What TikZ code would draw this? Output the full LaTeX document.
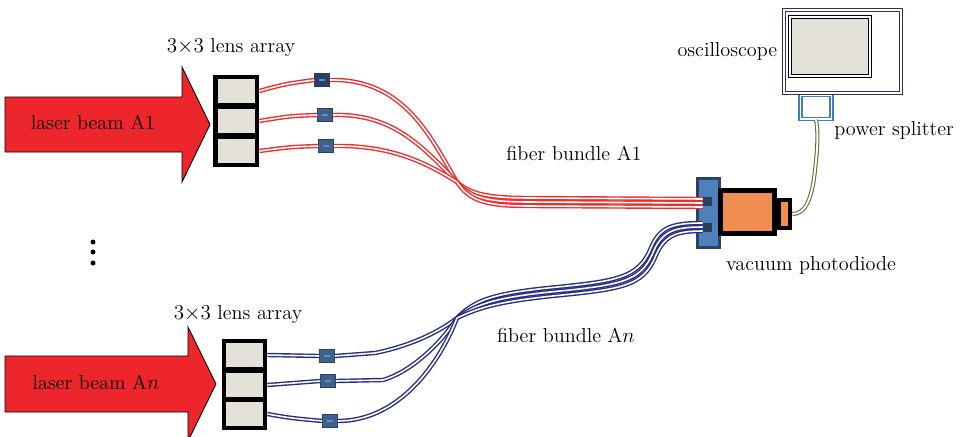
\documentclass[tikz,border=0pt]{standalone}
\usepackage{xcolor}
\usepackage{amsmath}
\usepackage{tikz}
\usetikzlibrary{positioning, calc}
\definecolor{laserred}{RGB}{236,38,42}
\definecolor{fibred}{RGB}{238,45,45}
\definecolor{fibnavy}{RGB}{40,45,130}
\definecolor{lensgrey}{RGB}{228,226,216}
\definecolor{connblue}{RGB}{62,98,140}
\definecolor{conndark}{RGB}{40,62,98}
\definecolor{conninner}{RGB}{100,140,190}
\definecolor{portblue}{RGB}{78,128,188}
\definecolor{portedge}{RGB}{42,66,104}
\definecolor{diodeorange}{RGB}{240,142,82}
\definecolor{cablegreen}{RGB}{92,112,52}
\definecolor{splitblue}{RGB}{72,122,192}
\definecolor{scopenavy}{RGB}{48,48,100}
\tikzset{
  beam/.style={fill=laserred, draw=black, line width=0.5pt, line join=miter},
  lensframe/.style={rectangle, fill=black, minimum width=0.92cm, minimum height=1.84cm, inner sep=0pt},
  lenscell/.style={rectangle, fill=lensgrey, minimum width=0.74cm, minimum height=0.48cm, inner sep=0pt},
  conn/.style={rectangle, draw=conndark, fill=connblue, line width=0.3pt,
    minimum width=0.3cm, minimum height=0.26cm, inner sep=0pt},
  redfiber/.style={draw=fibred, line width=0.8pt, double=white, double distance=0.9pt},
  bluefiber/.style={draw=fibnavy, line width=0.8pt, double=white, double distance=0.9pt},
  cable/.style={draw=cablegreen, line width=0.6pt, double=white, double distance=1.1pt},
  textlbl/.style={font=\fontsize{11.5}{14}\selectfont, inner sep=1pt}
}
\newcommand{\connmark}{\textcolor{conninner}{\rule{3.4pt}{1.7pt}}}

\begin{document}
\begin{tikzpicture}[x=0.02cm, y=-0.02cm]
  \clip (0,0) rectangle (970,436);
  \useasboundingbox (0,0) rectangle (970,436);

  % laser beams
  \draw[beam] (5,97) -- (182,97) -- (182,67) -- (210,124.5) -- (182,182) -- (182,152) -- (5,152) -- cycle;
  \node[textlbl] (beamA) at (93,122) {laser beam A1};
  \draw[beam] (5,356) -- (188,356) -- (188,327) -- (216,384) -- (188,441) -- (188,412) -- (5,412) -- cycle;
  \node[textlbl] (beamN) at (96,382) {laser beam A$n$};

  % dots between the two channels
  \foreach \y in {242,252,263}
    \fill (93,\y) circle (0.05cm);

  % lens arrays
  \node[lensframe] (lensA) at (236,121) {};
  \foreach \i/\y in {1/91,2/121,3/151}
    \node[lenscell] (cellA\i) at (236.5,\y) {};
  \node[textlbl] at (231,48) {$3{\times}3$ lens array};

  \node[lensframe, minimum width=0.9cm, minimum height=1.82cm] (lensN) at (244.5,384.5) {};
  \foreach \i/\y in {1/355,2/385,3/414}
    \node[lenscell] (cellN\i) at (244.5,\y) {};
  \node[textlbl] at (238,315) {$3{\times}3$ lens array};

  % fiber connectors
  \node[conn, fill=conndark] (connA1) at (322,80) {\connmark};
  \node[conn] (connA2) at (325,115) {\connmark};
  \node[conn] (connA3) at (326,146) {\connmark};
  \node[conn] (connN1) at (327,356) {\connmark};
  \node[conn] (connN2) at (328,381) {\connmark};
  \node[conn] (connN3) at (330,421) {\connmark};

  % vacuum photodiode
  \node[rectangle, draw=portedge, fill=portblue, line width=1.4pt,
    minimum width=0.44cm, minimum height=1.38cm] (pdport) at (708.5,213) {};
  \node[rectangle, fill=conndark, minimum size=0.18cm, inner sep=0pt] (pdslot1) at (707.5,201) {};
  \node[rectangle, fill=conndark, minimum size=0.18cm, inner sep=0pt] (pdslot2) at (707.5,227) {};
  \node[rectangle, draw=black, fill=diodeorange, line width=2.3pt,
    minimum width=0.22cm, minimum height=0.56cm] (pdcap) at (784.5,214) {};
  \node[rectangle, draw=black, fill=diodeorange, line width=2.8pt,
    minimum width=1.08cm, minimum height=0.86cm] (pdbody) at (747.5,212) {};
  \node[textlbl] at (811,265) {vacuum photodiode};

  % oscilloscope and power splitter
  \node[rectangle, draw=splitblue, line width=0.9pt, double=white, double distance=0.8pt,
    minimum width=0.62cm, minimum height=0.48cm] (splitter) at (816,107) {};
  \node[rectangle, draw=scopenavy, line width=0.8pt, double=white, double distance=1.1pt, fill=white,
    minimum width=2.34cm, minimum height=1.66cm] (scope) at (842.5,51.5) {};
  \node[rectangle, draw=black, line width=0.9pt, double=white, double distance=0.6pt, fill=lensgrey,
    minimum width=1.6cm, minimum height=1.18cm] (screen) at (830,46.5) {};
  \node[textlbl, left=0.08cm of scope] {oscilloscope};
  \node[textlbl, anchor=north west] at (splitter.south east) {power splitter};

  \coordinate (mergeA) at (457,182);
  \coordinate (mergeN) at (457,318);

  % fiber bundle A1
  \draw[redfiber] ([xshift=0.08cm]cellA1.east) .. controls (285,84) .. (connA1.west);
  \draw[redfiber] ([xshift=0.08cm]cellA2.east) .. controls (290,116) .. (connA2.west);
  \draw[redfiber] ([xshift=0.08cm]cellA3.east) .. controls (290,147) .. (connA3.west);
  \draw[redfiber] (connA1.east) .. controls (405,78) and (432,140) .. (mergeA);
  \draw[redfiber] (connA2.east) .. controls (395,113) and (425,150) .. (mergeA);
  \draw[redfiber] (connA3.east) .. controls (390,145) and (425,162) .. (mergeA);
  \foreach \d in {-2,2,6}
    \draw[redfiber] (mergeA) .. controls (470,{196+\d}) and (488,{200+\d}) .. (530,{200+\d})
      -- ([yshift={-0.02cm*(\d)}]pdslot1.west);
  \node[textlbl] at (574,153) {fiber bundle A1};

  % fiber bundle An
  \draw[bluefiber] ([xshift=0.08cm]cellN1.east) -- (connN1.west);
  \draw[bluefiber] ([xshift=0.08cm]cellN2.east) -- (connN2.west);
  \draw[bluefiber] ([xshift=0.08cm]cellN3.east) .. controls (290,418) .. (connN3.west);
  \draw[bluefiber] (connN1.east) -- (375,353) .. controls (405,347) and (435,335) .. (mergeN);
  \draw[bluefiber] (connN2.east) -- (383,380) .. controls (410,372) and (440,345) .. (mergeN);
  \draw[bluefiber] (connN3.east) .. controls (400,421) and (440,362) .. (mergeN);
  \foreach \d in {-4,0,4}
    \draw[bluefiber] (mergeN) .. controls ({478+0.6*\d},{303+\d}) and ({498+0.6*\d},{297+\d})
      .. ({560+0.6*\d},{291+\d}) .. controls ({620+0.6*\d},{285+\d}) and ({640+0.6*\d},{281+\d})
      .. ({652+0.6*\d},{255+\d}) .. controls ({661+0.6*\d},{232+\d}) and ({672+0.6*\d},{227+\d})
      .. ([yshift={-0.02cm*(\d)}]pdslot2.west);
  \node[textlbl] at (566,335) {fiber bundle A$n$};

  % cable to the power splitter
  \draw[cable] (pdcap.east) .. controls (805,214) and (812,200) .. (815,170)
    .. controls (818,145) and (818,130) .. (splitter.south);
\end{tikzpicture}
\end{document}
